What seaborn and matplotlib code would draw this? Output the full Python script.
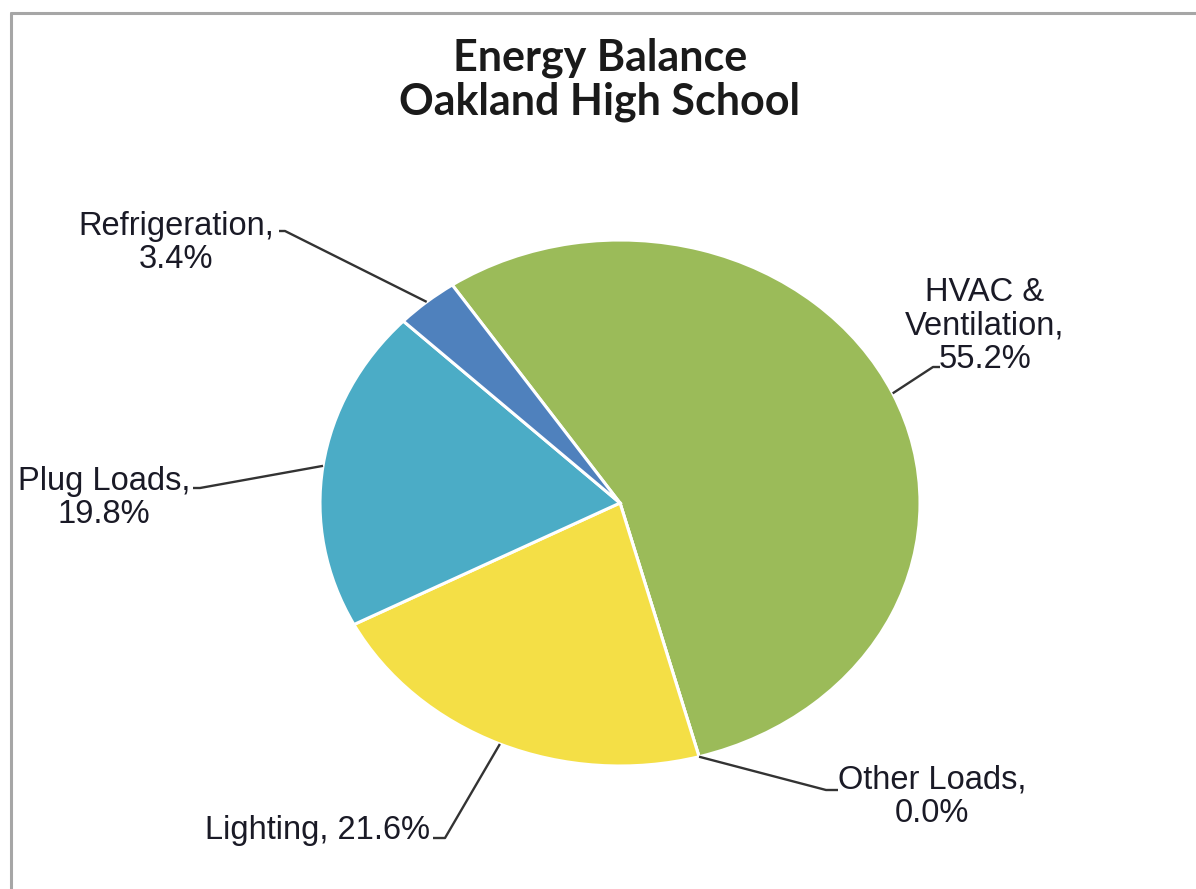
import numpy as np
import matplotlib
matplotlib.use("Agg")
import matplotlib.pyplot as plt
import seaborn as sns

# ── data ──────────────────────────────────────
categories = ["HVAC & Ventilation", "Other Loads", "Lighting", "Plug Loads", "Refrigeration"]
shares     = [55.2, 0.0, 21.6, 19.8, 3.4]
colors     = ["#9BBB59", "#9BBB59", "#F4DF46", "#4BACC6", "#4F81BD"]
title      = "Energy Balance\nOakland High School"

# ── layout (pixels on a 1196x889 canvas) ──────
W, H = 1196, 889
CX, CY = 620, 503          # pie centre
RX, RY = 300, 263          # pie is a bit wider than tall
START = 124                # first slice starts here, goes clockwise

# label centre, leader elbow, leader end (all pixels)
label_text_pos = [(985, 326), (932, 797), (317, 831), (104, 498), (176, 243)]
leader_elbow   = [(933, 367), (826, 790), (445, 838), (200, 488), (285, 231)]
leader_end     = [(940, 367), (838, 790), (433, 838), (193, 488), (279, 231)]
label_sep      = ["\n", "\n", " ", "\n", "\n"]
label_wrap     = {"HVAC & Ventilation": "HVAC &\nVentilation"}


def px(x, y):
    # canvas pixel -> data coords (pie radius = 1)
    return (x - CX) / RX, (CY - y) / RY


sns.set_theme(style="white")
plt.rcParams["font.family"] = ["Liberation Sans", "DejaVu Sans"]

fig = plt.figure(figsize=(W / 100, H / 100), dpi=100)
ax = fig.add_axes([0, 0, 1, 1])

wedges, _ = ax.pie(
    shares,
    colors=sns.color_palette(colors),
    startangle=START,
    counterclock=False,
    radius=1.0,
    wedgeprops=dict(edgecolor="white", linewidth=2.2),
)

ax.set_aspect("auto")
ax.set_xlim(-CX / RX, (W - CX) / RX)
ax.set_ylim(-(H - CY) / RY, CY / RY)
ax.axis("off")

# data labels with leader lines
for i, w in enumerate(wedges):
    mid = np.deg2rad((w.theta1 + w.theta2) / 2)
    x0, y0 = np.cos(mid), np.sin(mid)
    ex, ey = px(*leader_elbow[i])
    tx, ty = px(*leader_end[i])
    ax.plot([x0, ex, tx], [y0, ey, ty], color="#333333", lw=1.7,
            solid_capstyle="butt", zorder=3)

    name = label_wrap.get(categories[i], categories[i])
    lx, ly = px(*label_text_pos[i])
    ax.text(lx, ly, f"{name},{label_sep[i]}{shares[i]:.1f}%",
            ha="center", va="center", fontsize=23.5, color="#1a1a26",
            linespacing=1.1, zorder=4)

# title
fig.text(600 / W, 1 - 80 / H, title, ha="center", va="center",
         fontsize=31, fontweight="bold", family=["Lato", "DejaVu Sans"],
         color="#1a1a1a", linespacing=1.1)

# chart-area border (only top and left visible in the crop)
fig.add_artist(plt.Line2D([11 / W, 11 / W], [0, 1 - 13 / H],
                          transform=fig.transFigure, color="#a6a6a6", lw=2.2))
fig.add_artist(plt.Line2D([11 / W, 1], [1 - 13 / H, 1 - 13 / H],
                          transform=fig.transFigure, color="#a6a6a6", lw=2.2))

fig.savefig("out.png", dpi=100, facecolor="white")
